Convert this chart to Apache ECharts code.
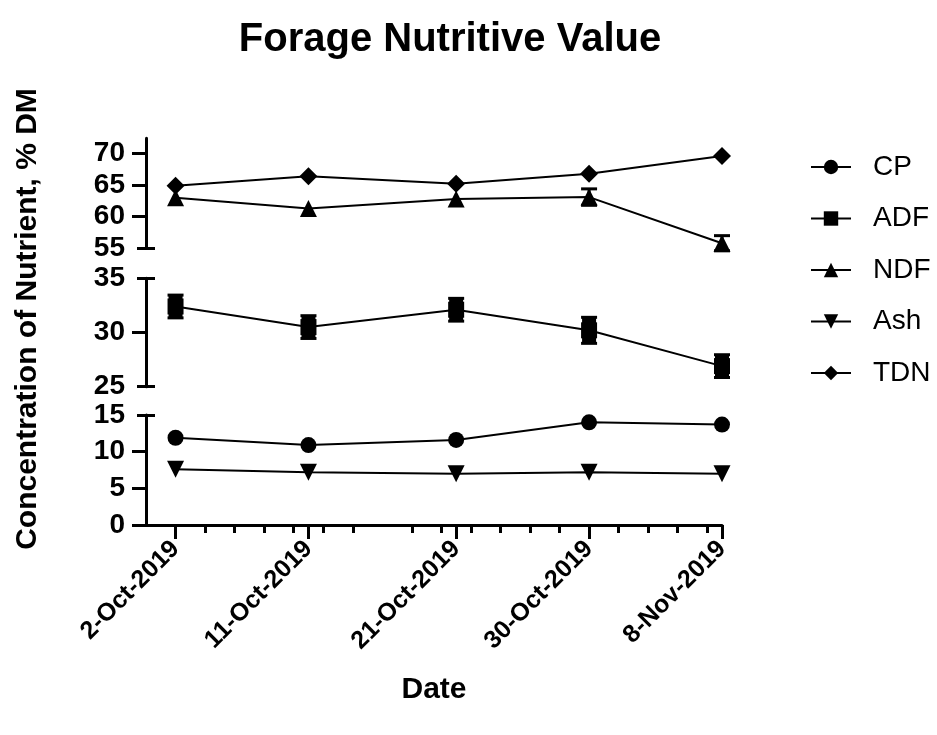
<!DOCTYPE html>
<html><head><meta charset="utf-8">
<script src="https://cdn.jsdelivr.net/npm/echarts@6/dist/echarts.min.js"></script>
<style>html,body{margin:0;padding:0;background:#fff}#c{width:937px;height:735px}</style>
</head><body><div id="c"></div><script>
// ---- data ----
const dateLabels = ['2-Oct-2019', '11-Oct-2019', '21-Oct-2019', '30-Oct-2019', '8-Nov-2019'];
const dayOffsets = [0, 9, 19, 28, 37];           // days after 2-Oct-2019
const minorTickDays = [2, 4, 6, 8, 10, 12, 16, 18, 20, 22, 24, 26, 30, 32, 34, 36];
const seriesNames = ['CP', 'ADF', 'NDF', 'Ash', 'TDN'];
const cp  = [11.9, 10.9, 11.6, 14.0, 13.7];
const adf = [32.4, 30.5, 32.1, 30.2, 26.9];
const ndf = [63.0, 61.3, 62.8, 63.1, 55.8];
const ash = [7.6, 7.2, 7.0, 7.2, 7.0];
const tdn = [64.9, 66.4, 65.2, 66.8, 69.6];
const adfSD = [1.05, 1.05, 1.05, 1.2, 1.05];
const ndfSD = [0, 0, 0, 1.3, 1.2];
// y-axis segments (top, middle, bottom)
const topTickLabels = [55, 60, 65, 70];
const midTickLabels = [25, 30, 35];
const botTickLabels = [0, 5, 10, 15];
const topTicks = [60, 65, 70], topCaps = [55];
const midTicks = [30], midCaps = [25, 35];
const botTicks = [0, 5, 10], botCaps = [15];

const FONT = 'Liberation Sans, Arial, sans-serif';
const chart = echarts.init(document.getElementById('c'), null, {renderer: 'canvas'});

const grids = [
  {left: 146, width: 576, top: 138.3, height: 110},
  {left: 146, width: 576, top: 278.3, height: 108.4},
  {left: 146, width: 576, top: 415, height: 110}
];
const segs = [
  {min: 55, max: 72.4, labels: topTickLabels, ticks: topTicks, caps: topCaps},
  {min: 25, max: 35, labels: midTickLabels, ticks: midTicks, caps: midCaps},
  {min: 0, max: 15, labels: botTickLabels, ticks: botTicks, caps: botCaps}
];

const xAxes = [];
for (let g = 0; g < 3; g++) {
  xAxes.push({
    type: 'value', gridIndex: g, min: -2, max: 37, position: 'bottom',
    show: g === 2,
    axisLine: {show: g === 2, onZero: false, lineStyle: {color: '#000', width: 3}},
    axisTick: {show: g === 2, customValues: dayOffsets, length: 14, lineStyle: {color: '#000', width: 3}},
    axisLabel: {show: g === 2, customValues: dayOffsets, rotate: 45, margin: 20,
      fontFamily: FONT, fontWeight: 'bold', fontSize: 25, color: '#000',
      formatter: v => dateLabels[dayOffsets.indexOf(v)] || ''},
    splitLine: {show: false},
    name: g === 2 ? 'Date' : '', nameLocation: 'middle', nameGap: 150,
    nameTextStyle: {fontFamily: FONT, fontWeight: 'bold', fontSize: 30, color: '#000'}
  });
}
// minor ticks axis on the bottom grid
xAxes.push({
  type: 'value', gridIndex: 2, min: -2, max: 37, position: 'bottom',
  axisLine: {show: false, onZero: false},
  axisTick: {show: true, customValues: minorTickDays, length: 8, lineStyle: {color: '#000', width: 3}},
  axisLabel: {show: false}, splitLine: {show: false}
});

const yAxes = [];
segs.forEach((s, g) => {
  yAxes.push({
    type: 'value', gridIndex: g, min: s.min, max: s.max, position: 'left',
    axisLine: {show: true, onZero: false, lineStyle: {color: '#000', width: 3}},
    axisTick: {show: true, customValues: s.ticks, length: 14, lineStyle: {color: '#000', width: 3}},
    axisLabel: {show: true, customValues: s.labels, margin: 21, fontFamily: FONT,
      fontWeight: 'bold', fontSize: 28, color: '#000'},
    splitLine: {show: false}
  });
  yAxes.push({
    type: 'value', gridIndex: g, min: s.min, max: s.max, position: 'left',
    axisLine: {show: false, onZero: false},
    axisTick: {show: true, customValues: s.caps, length: 9, lineStyle: {color: '#000', width: 3}},
    axisLabel: {show: false}, splitLine: {show: false}
  });
  yAxes.push({
    type: 'value', gridIndex: g, min: s.min, max: s.max, position: 'left',
    axisLine: {show: false, onZero: false},
    axisTick: {show: true, inside: true, customValues: s.caps, length: 9, lineStyle: {color: '#000', width: 3}},
    axisLabel: {show: false}, splitLine: {show: false}
  });
});

function pts(vals) { return vals.map((v, i) => [dayOffsets[i], v]); }
function errData(vals, sd) { return vals.map((v, i) => [dayOffsets[i], v - sd[i], v + sd[i]]); }

const lineBase = {
  type: 'line', symbolSize: 16, showSymbol: true, animation: false,
  lineStyle: {color: '#000', width: 2}, itemStyle: {color: '#000'}, z: 3
};
const downTri = 'path://M0,0 L10,0 L5,9 Z';

function errorBars(name, gi, data, bodyWidth) {
  return {
    type: 'custom', name: name, xAxisIndex: gi, yAxisIndex: gi * 3, z: 2, animation: false,
    data: data, encode: {x: 0, y: [1, 2]},
    renderItem: function (params, api) {
      const x = api.value(0), lo = api.value(1), hi = api.value(2);
      if (hi - lo <= 0) return {type: 'group', children: []};
      const p1 = api.coord([x, hi]), p2 = api.coord([x, lo]);
      const hw = 8;
      const st = {stroke: '#000', lineWidth: 3};
      return {type: 'group', children: [
        {type: 'line', shape: {x1: p1[0], y1: p1[1], x2: p2[0], y2: p2[1]}, style: {stroke: '#000', lineWidth: bodyWidth}},
        {type: 'line', shape: {x1: p1[0] - hw, y1: p1[1], x2: p1[0] + hw, y2: p1[1]}, style: st},
        {type: 'line', shape: {x1: p2[0] - hw, y1: p2[1], x2: p2[0] + hw, y2: p2[1]}, style: st}
      ]};
    }
  };
}

const option = {
  backgroundColor: '#fff',
  animation: false,
  title: {
    text: 'Forage Nutritive Value', left: 445, top: 15, textAlign: 'center',
    textStyle: {fontFamily: FONT, fontWeight: 'bold', fontSize: 40, color: '#000'}
  },
  legend: {
    data: seriesNames, orient: 'vertical', left: 810, top: 153,
    itemWidth: 40, itemHeight: 18, itemGap: 23.5, padding: 0,
    textStyle: {fontFamily: FONT, fontSize: 28, color: '#000', padding: [0, 0, 0, 17]}
  },
  graphic: [{
    type: 'text', x: 28, y: 319, rotation: Math.PI / 2,
    style: {text: 'Concentration of Nutrient, % DM', fontFamily: FONT, fontWeight: 'bold',
      fontSize: 30, fill: '#000', align: 'center', verticalAlign: 'middle'}
  }],
  grid: grids,
  xAxis: xAxes,
  yAxis: yAxes,
  series: [
    errorBars('ndfErr', 0, errData(ndf, ndfSD), 3),
    errorBars('adfErr', 1, errData(adf, adfSD), 14),
    Object.assign({}, lineBase, {name: 'CP', xAxisIndex: 2, yAxisIndex: 6, symbol: 'circle', data: pts(cp)}),
    Object.assign({}, lineBase, {name: 'ADF', xAxisIndex: 1, yAxisIndex: 3, symbol: 'rect', data: pts(adf)}),
    Object.assign({}, lineBase, {name: 'NDF', xAxisIndex: 0, yAxisIndex: 0, symbol: 'triangle', symbolSize: 17, data: pts(ndf)}),
    Object.assign({}, lineBase, {name: 'Ash', xAxisIndex: 2, yAxisIndex: 6, symbol: downTri, symbolSize: 17, data: pts(ash)}),
    Object.assign({}, lineBase, {name: 'TDN', xAxisIndex: 0, yAxisIndex: 0, symbol: 'diamond', symbolSize: 18, data: pts(tdn)})
  ]
};
chart.setOption(option);
</script></body></html>
